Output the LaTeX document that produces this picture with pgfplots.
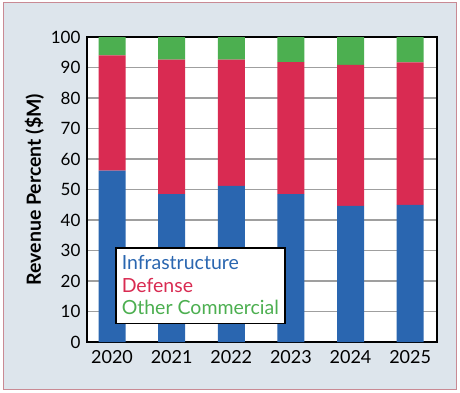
\documentclass[border=0pt]{standalone}
\usepackage{pgfplots}
\pgfplotsset{compat=1.18}
\usepackage{fontspec}
\setmainfont{Lato}
\definecolor{bgc}{HTML}{DDE5EC}
\definecolor{frm}{HTML}{C98A94}
\definecolor{infra}{HTML}{2A66B0}
\definecolor{def}{HTML}{D92B52}
\definecolor{oth}{HTML}{4CAF50}
\begin{document}
\begin{tikzpicture}
\path[use as bounding box] (0pt,0pt) rectangle (460pt,392pt);
\fill[bgc] (3pt,3pt) rectangle (456pt,389pt);
\draw[frm,line width=1pt] (3pt,3pt) rectangle (456pt,389pt);
\begin{axis}[
  at={(87pt,50pt)}, anchor=south west,
  scale only axis, width=350pt, height=305pt,
  ybar stacked, bar width=27pt,
  xmin=-0.42, xmax=5.45, ymin=0, ymax=100,
  xtick={0,...,5}, xticklabels={2020,2021,2022,2023,2024,2025},
  ytick={0,10,...,100},
  major tick length=0pt,
  ymajorgrids, grid style={draw=gray!75, line width=1.3pt},
  axis line style={line width=1.5pt},
  axis background/.style={fill=white},
  tick label style={font=\fontsize{17}{19}\selectfont, /pgf/number format/assume math mode=true},
  yticklabel style={xshift=-3pt},
  xticklabel style={font=\fontsize{18}{20}\selectfont, yshift=-5pt},
  ylabel={\bfseries Revenue Percent (\$M)},
  ylabel style={font=\fontsize{19.5}{21}\selectfont, yshift=0pt},
  legend style={at={(0.08,0.31)}, anchor=north west, draw=black, line width=1.5pt,
    font=\fontsize{19.5}{21}\selectfont, inner xsep=4pt, inner ysep=5pt, fill=white,
    row sep=3pt},
  legend cell align=left,
  legend image code/.code={},
]
\addplot[fill=infra, draw=none] coordinates {(0,56.2) (1,48.5) (2,51.2) (3,48.5) (4,44.6) (5,45.0)};
\addplot[fill=def, draw=none] coordinates {(0,37.8) (1,44.1) (2,41.4) (3,43.3) (4,46.3) (5,46.7)};
\addplot[fill=oth, draw=none] coordinates {(0,6.0) (1,7.4) (2,7.4) (3,8.2) (4,9.1) (5,8.3)};
\legend{\textcolor{infra}{Infrastructure},\textcolor{def}{Defense},\textcolor{oth}{Other Commercial}}
\end{axis}
\end{tikzpicture}
\end{document}
